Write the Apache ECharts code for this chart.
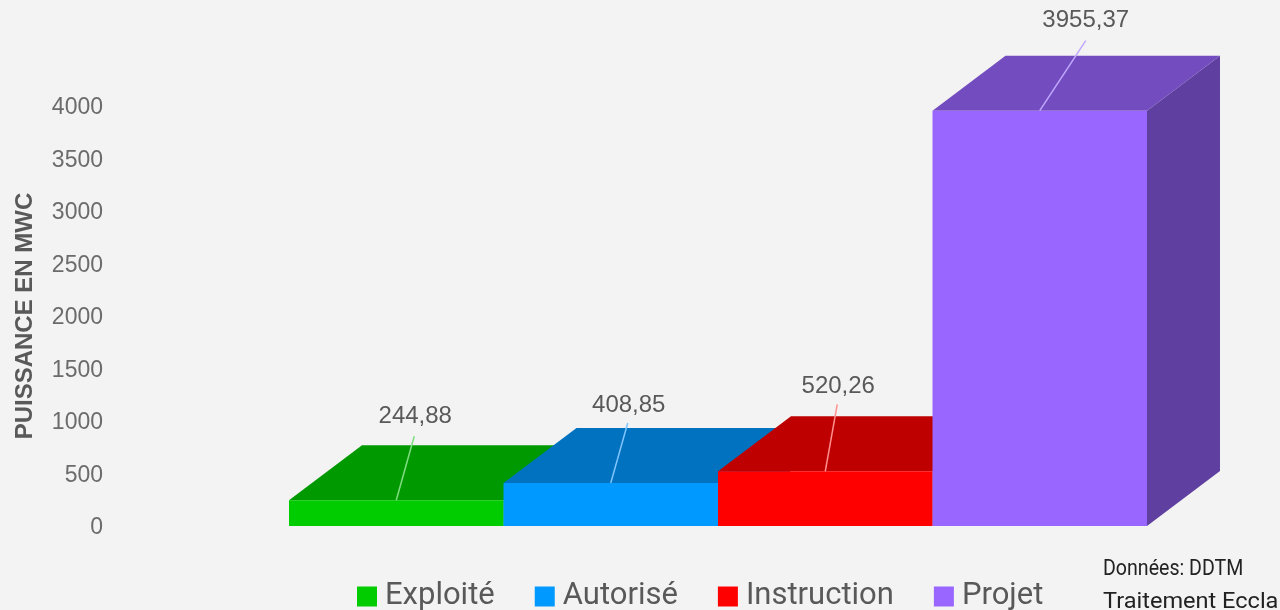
<!DOCTYPE html>
<html lang="fr">
<head>
    <meta charset="UTF-8">
    <title>Puissance en MWc</title>
    <script src="https://cdn.jsdelivr.net/npm/echarts@6/dist/echarts.min.js"></script>
    <style>
        html, body { margin: 0; padding: 0; background: #f3f3f3; }
        #chart { width: 1280px; height: 610px; }
    </style>
</head>
<body>
<div id="chart"></div>
<script>
    var categories = ['Exploité', 'Autorisé', 'Instruction', 'Projet'];
    var values = [244.88, 408.85, 520.26, 3955.37];
    var valueLabels = ['244,88', '408,85', '520,26', '3955,37'];
    var yTicks = [0, 500, 1000, 1500, 2000, 2500, 3000, 3500, 4000];

    // couleurs face avant / dessus / cote
    var frontColors = ['#00cc00', '#0099ff', '#ff0000', '#9966ff'];
    var topColors = ['#009900', '#0072bf', '#bf0000', '#734cbf'];
    var sideColors = ['#008000', '#005f9f', '#9f0000', '#5f3f9f'];
    var leaderColors = ['#80dd80', '#80c4ff', '#ff9090', '#c0a8ff'];

    // decalage du trait de rappel et de l'etiquette par rapport au haut de la barre
    var leaderEnd = [[18, -64], [17, -60], [12, -67], [46, -70]];
    var labelPos = [[19, -84], [18, -78], [13, -85], [46, -90]];
    var depthX = 73, depthY = -55;

    function renderBar(params, api) {
        var i = api.value(0);
        var base = api.coord([i, 0]);
        var tip = api.coord([i, api.value(1)]);
        var w = api.size([1, 0])[0];
        var x0 = base[0] - w / 2, x1 = base[0] + w / 2;
        var yb = base[1], yt = tip[1];
        return {
            type: 'group',
            children: [
                {
                    type: 'polygon',
                    shape: { points: [[x1, yb], [x1 + depthX, yb + depthY], [x1 + depthX, yt + depthY], [x1, yt]] },
                    style: { fill: sideColors[i] }
                },
                {
                    type: 'polygon',
                    shape: { points: [[x0, yt], [x0 + depthX, yt + depthY], [x1 + depthX, yt + depthY], [x1, yt]] },
                    style: { fill: topColors[i] }
                },
                {
                    type: 'rect',
                    shape: { x: x0, y: yt, width: w, height: yb - yt },
                    style: { fill: frontColors[i] }
                },
                {
                    type: 'line',
                    shape: { x1: base[0], y1: yt, x2: base[0] + leaderEnd[i][0], y2: yt + leaderEnd[i][1] },
                    style: { stroke: leaderColors[i], lineWidth: 1.5 }
                },
                {
                    type: 'text',
                    x: base[0] + labelPos[i][0],
                    y: yt + labelPos[i][1],
                    style: {
                        text: valueLabels[i],
                        fill: '#595959',
                        font: '24px "Liberation Sans"',
                        align: 'center',
                        verticalAlign: 'middle'
                    }
                }
            ]
        };
    }

    var series = [];
    for (var i = 0; i < categories.length; i++) {
        series.push({
            name: categories[i],
            type: 'custom',
            renderItem: renderBar,
            encode: { x: 0, y: 1 },
            clip: false,
            z: 2 + i,
            itemStyle: { color: frontColors[i] },
            data: [[i, values[i]]]
        });
    }

    var myChart = echarts.init(document.getElementById('chart'));
    var option = {
        backgroundColor: '#f3f3f3',
        animation: false,
        grid: { left: 289, right: 133, top: 106, bottom: 84 },
        xAxis: {
            type: 'category',
            data: categories,
            axisLine: { show: false },
            axisTick: { show: false },
            axisLabel: { show: false }
        },
        yAxis: {
            type: 'value',
            min: yTicks[0],
            max: yTicks[yTicks.length - 1],
            interval: yTicks[1] - yTicks[0],
            name: 'PUISSANCE EN MWC',
            nameLocation: 'middle',
            nameGap: 252,
            nameTextStyle: { color: '#595959', fontSize: 24, fontWeight: 'bold', fontFamily: 'Liberation Sans' },
            splitLine: { show: false },
            axisLine: { show: false },
            axisTick: { show: false },
            axisLabel: {
                margin: 186,
                formatter: function (v) { return '{t|' + v + '}'; },
                rich: {
                    t: {
                        color: '#6b6b6b',
                        fontSize: 23,
                        fontFamily: 'Liberation Sans',
                        padding: [4, 0, 0, 0]
                    }
                }
            }
        },
        legend: {
            data: categories,
            left: 352,
            top: 576,
            itemWidth: 20,
            itemHeight: 20,
            itemGap: 40,
            icon: 'rect',
            textStyle: { color: '#595959', fontSize: 31, fontFamily: 'Roboto', padding: [0, 0, 0, 3] }
        },
        graphic: [
            {
                type: 'text',
                x: 1103,
                y: 569,
                scaleX: 0.89,
                style: { text: 'Données: DDTM', fill: '#222222', font: '22px Roboto', verticalAlign: 'middle' }
            },
            {
                type: 'text',
                x: 1103,
                y: 602,
                scaleX: 1.07,
                style: { text: 'Traitement Eccla', fill: '#222222', font: '22px Roboto', verticalAlign: 'middle' }
            }
        ],
        series: series
    };
    myChart.setOption(option);
</script>
</body>
</html>
